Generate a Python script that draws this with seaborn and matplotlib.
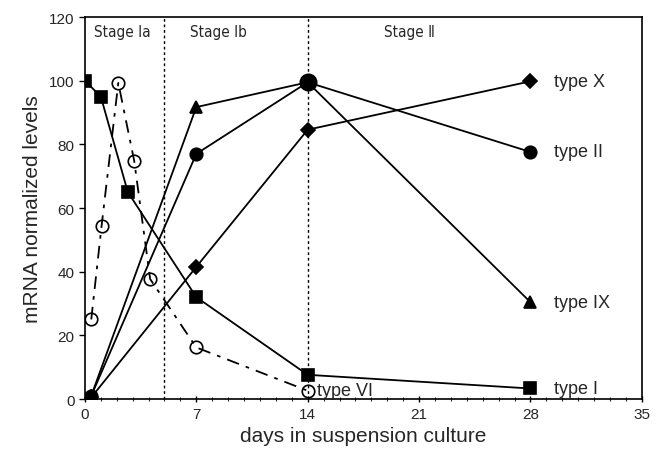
import matplotlib
matplotlib.use("Agg")
import matplotlib.pyplot as plt
import seaborn as sns
import pandas as pd
from matplotlib.ticker import MultipleLocator

# values (days, normalized mRNA level)
days_I = [0, 1, 2.7, 7, 14, 28]
level_I = [100, 95, 65, 32, 7.6, 3.3]

days_II = [0.4, 7, 14, 28]
level_II = [1, 77, 99.5, 77.6]

days_IX = [0.4, 7, 14, 28]
level_IX = [1, 91.7, 99.5, 30.4]

days_X = [0.4, 7, 14, 28]
level_X = [0.5, 41.5, 84.6, 99.8]

days_VI = [0.4, 1.05, 2.1, 3.1, 4.1, 7, 14]
level_VI = [25, 54.4, 99.3, 74.8, 37.7, 16.2, 2.6]

stage_lines = [5, 14]
stage_names = ["Stage Ⅰa", "Stage Ⅰb", "Stage Ⅱ"]
stage_x = [0.6, 6.6, 18.8]

sns.set_style("ticks")
plt.rcParams["font.family"] = ["Liberation Sans", "DejaVu Sans"]

fig = plt.figure(figsize=(6.58, 4.56), dpi=100)
ax = fig.add_axes([0.129, 0.1228, 0.8465, 0.8377])

for xv in stage_lines:
    ax.axvline(xv, color="black", lw=1, ls=(0, (2, 2)), zorder=1)

def draw(x, y, marker, ms, ls="-", mfc="black"):
    df = pd.DataFrame({"day": x, "level": y})
    sns.lineplot(data=df, x="day", y="level", ax=ax, sort=False, color="black",
                 lw=1.3, linestyle=ls, marker=marker, markersize=ms,
                 markerfacecolor=mfc, markeredgecolor="black", markeredgewidth=1.2,
                 zorder=3)

draw(days_VI, level_VI, "o", 9, ls=(0, (7, 4, 2, 4)), mfc="none")
draw(days_X, level_X, "D", 7)
draw(days_IX, level_IX, "^", 9)
draw(days_II, level_II, "o", 9)
draw(days_I, level_I, "s", 8)
# enlarged marker where the three chondrocyte curves meet at day 14
ax.plot([14], [99.5], "o", color="black", ms=12, zorder=4)

ax.text(29.5, 99.8, "type X", fontsize=13, va="center")
ax.text(29.5, 77.6, "type II", fontsize=13, va="center")
ax.text(29.5, 30.4, "type IX", fontsize=13, va="center")
ax.text(29.5, 3.3, "type I", fontsize=13, va="center")
ax.text(14.6, 2.6, "type VI", fontsize=13, va="center")

for sx, name in zip(stage_x, stage_names):
    ax.text(sx, 115.5, name, fontsize=11, va="center", family=["DejaVu Sans"],
            fontstretch="condensed")

ax.set_xlim(0, 35)
ax.set_ylim(0, 120)
ax.set_xticks([0, 7, 14, 21, 28, 35])
ax.set_yticks([0, 20, 40, 60, 80, 100, 120])
ax.xaxis.set_minor_locator(MultipleLocator(1))
ax.tick_params(axis="both", which="major", labelsize=11, length=4, width=1, color="black")
ax.tick_params(axis="x", which="minor", length=2.5, width=0.8)
ax.tick_params(axis="x", which="major", length=5)
ax.tick_params(axis="x", which="both", direction="inout")
for sp in ax.spines.values():
    sp.set_visible(True)
    sp.set_color("black")
    sp.set_linewidth(1.2)

ax.set_xlabel("days in suspension culture", fontsize=15, labelpad=3)
ax.set_ylabel("mRNA normalized levels", fontsize=15, labelpad=5)

fig.savefig("out.png", dpi=100)
